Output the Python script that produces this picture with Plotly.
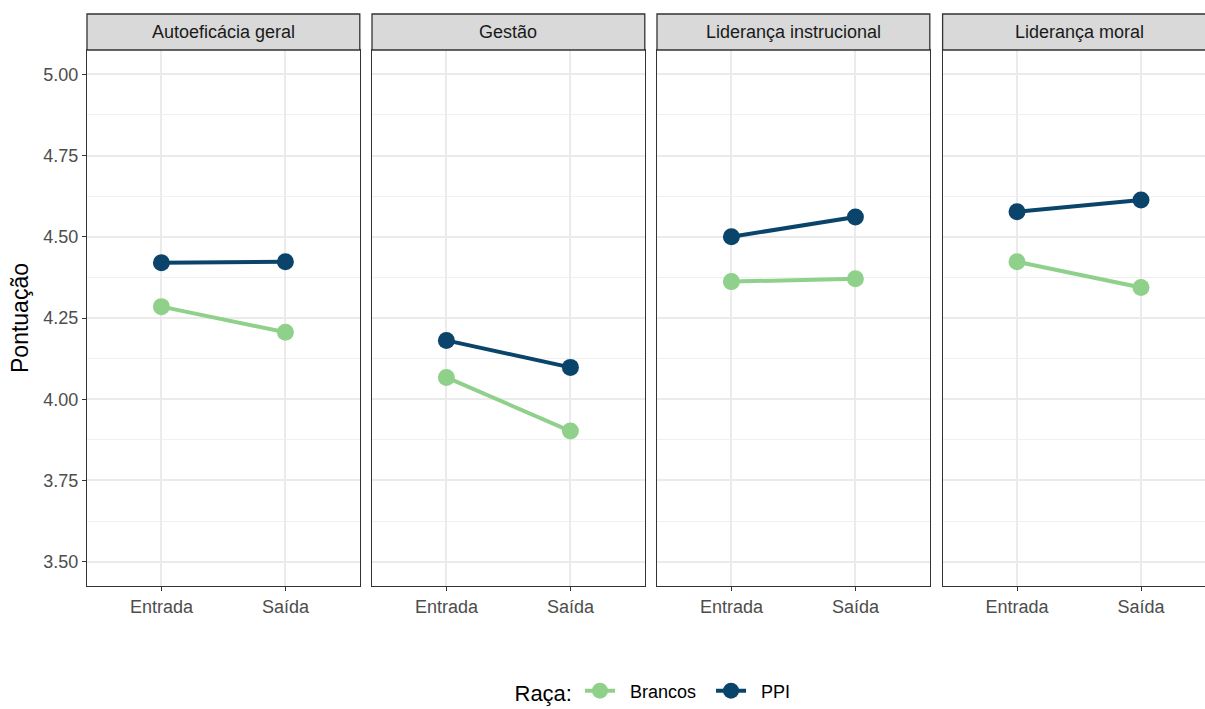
import plotly.graph_objects as go

facets = ["Autoeficácia geral", "Gestão", "Liderança instrucional", "Liderança moral"]
momentos = ["Entrada", "Saída"]
brancos = [[4.285, 4.206], [4.067, 3.902], [4.362, 4.371], [4.423, 4.344]]
ppi = [[4.420, 4.423], [4.181, 4.098], [4.500, 4.561], [4.577, 4.613]]
y_ticks = [3.50, 3.75, 4.00, 4.25, 4.50, 4.75, 5.00]
series_names = ["Brancos", "PPI"]

W, H = 1205, 709
col_green = "#8FD08B"
col_blue = "#0A446B"
FONT = "Liberation Sans, Arial, sans-serif"
NB = "\u00a0"

# panel geometry (pixels)
panel_left = [87.0, 372.0, 657.0, 942.6]
panel_w = 272.8
unit_px = 124.0
top_px, bot_px, strip_top_px = 50.0, 586.0, 14.0

fig = go.Figure()
shapes = []
annotations = []

for i, name in enumerate(facets):
    n = "" if i == 0 else str(i + 1)
    x0 = panel_left[i]
    x1 = min(x0 + panel_w, W)
    xr1 = -0.6 + (x1 - x0) / unit_px
    fig.add_trace(go.Scatter(
        x=momentos, y=brancos[i], mode="lines+markers", name=NB * 2 + series_names[0] + NB * 2,
        line=dict(color=col_green, width=4), marker=dict(color=col_green, size=17),
        xaxis="x" + n, yaxis="y" + n, showlegend=(i == 0), legendgroup="b",
        hoverinfo="skip"))
    fig.add_trace(go.Scatter(
        x=momentos, y=ppi[i], mode="lines+markers", name=NB * 2 + series_names[1],
        line=dict(color=col_blue, width=4), marker=dict(color=col_blue, size=17),
        xaxis="x" + n, yaxis="y" + n, showlegend=(i == 0), legendgroup="p",
        hoverinfo="skip"))
    fig.update_layout(**{
        "xaxis" + n: dict(
            domain=[x0 / W, x1 / W], anchor="y" + n, type="category",
            categoryorder="array", categoryarray=momentos,
            range=[-0.6, xr1], showgrid=True, gridcolor="#EBEBEB", gridwidth=1.5,
            showline=True, mirror=True, linecolor="#333333", linewidth=1.3,
            ticks="outside", ticklen=4, tickcolor="#333333", tickwidth=1.3,
            tickfont=dict(family=FONT, size=18, color="#4D4D4D"),
            zeroline=False, fixedrange=True),
        "yaxis" + n: dict(
            domain=[1 - bot_px / H, 1 - top_px / H], anchor="x" + n,
            range=[3.425, 5.075], tickvals=y_ticks,
            ticktext=[f"{v:.2f}" for v in y_ticks],
            showticklabels=(i == 0),
            showgrid=True, gridcolor="#EBEBEB", gridwidth=1.5,
            minor=dict(dtick=0.125, tick0=3.375, showgrid=True, gridcolor="#F0F0F0", gridwidth=0.8),
            showline=True, mirror=(i < 3), linecolor="#333333", linewidth=1.3,
            ticks="outside" if i == 0 else "", ticklen=4, tickcolor="#333333", tickwidth=1.3,
            tickfont=dict(family=FONT, size=18, color="#4D4D4D"),
            zeroline=False, fixedrange=True),
    })
    # strip
    sx1 = (x0 + panel_w) / W if i < 3 else 1.02
    shapes.append(dict(type="rect", xref="paper", yref="paper",
                       x0=x0 / W, x1=sx1, y0=1 - top_px / H, y1=1 - strip_top_px / H,
                       fillcolor="#D9D9D9", line=dict(color="#333333", width=1.3), layer="above"))
    annotations.append(dict(xref="paper", yref="paper", x=(x0 + panel_w / 2) / W,
                            y=1 - (top_px + strip_top_px) / 2 / H, text=name, showarrow=False,
                            xanchor="center", yanchor="middle",
                            font=dict(family=FONT, size=18, color="#1A1A1A")))

annotations.append(dict(xref="paper", yref="paper", x=20 / W, y=1 - 318 / H, text="Pontuação",
                        textangle=-90, showarrow=False, xanchor="center", yanchor="middle",
                        font=dict(family=FONT, size=23, color="black")))

fig.update_layout(
    width=W, height=H, autosize=False,
    margin=dict(l=0, r=0, t=0, b=0, pad=0, autoexpand=False),
    paper_bgcolor="white", plot_bgcolor="white",
    shapes=shapes, annotations=annotations,
    font=dict(family=FONT),
    legend=dict(orientation="h", x=654 / W, xanchor="center", y=1 - 692 / H, yanchor="middle",
                title=dict(text="Raça:", font=dict(family=FONT, size=22, color="black")),
                font=dict(family=FONT, size=18, color="black"), itemwidth=30,
                bgcolor="rgba(0,0,0,0)", borderwidth=0),
    hovermode=False,
)

fig.write_html("out.html", config={"displayModeBar": False, "responsive": False},
               post_script="document.body.style.margin='0px';document.body.style.overflow='hidden';")
